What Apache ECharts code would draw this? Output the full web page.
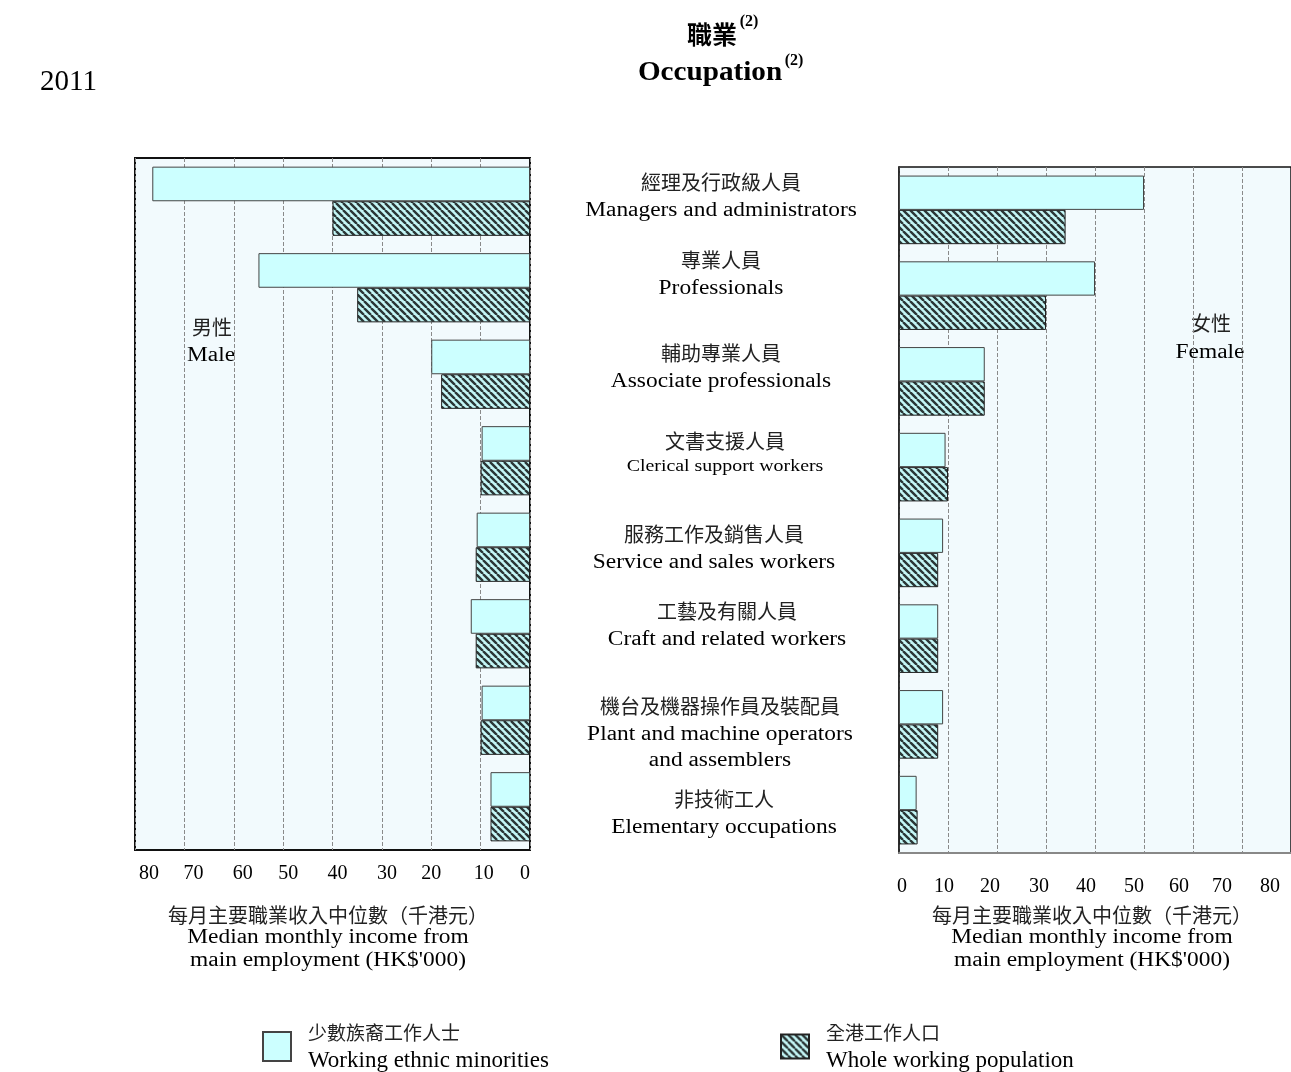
<!DOCTYPE html>
<html>
<head>
<meta charset="utf-8">
<script src="https://cdn.jsdelivr.net/npm/echarts@6/dist/echarts.min.js"></script>
<style>html,body{margin:0;padding:0;background:#fff}#c{width:1291px;height:1072px}</style>
</head>
<body>
<div id="c"></div>
<script>
// ---------------- data ----------------
const categoriesZh = ['經理及行政級人員','專業人員','輔助專業人員','文書支援人員','服務工作及銷售人員','工藝及有關人員','機台及機器操作員及裝配員','非技術工人'];
const categoriesEn = ['Managers and administrators','Professionals','Associate professionals','Clerical support workers','Service and sales workers','Craft and related workers','Plant and machine operators\nand assemblers','Elementary occupations'];
const maleMinority   = [76.5, 55, 20, 9.8, 10.8, 12, 9.8, 8];
const maleWhole      = [40, 35, 18, 10, 11, 11, 10, 8];
const femaleMinority = [50, 40, 17.5, 9.5, 9, 8, 9, 3.6];
const femaleWhole    = [34, 30, 17.5, 10, 8, 8, 8, 3.8];
const seriesNames = ['少數族裔工作人士', '全港工作人口'];
const seriesNamesEn = ['Working ethnic minorities', 'Whole working population'];
const axisMin = 0, axisMax = 80, axisStep = 10;

// ---------------- layout / style ----------------
const EN = "'Liberation Serif','Times New Roman',serif";
const ZH = "'Noto Sans CJK TC','Noto Sans CJK SC',sans-serif";
const labelPos = [
  {x:721, zh:182, en:211},
  {x:721, zh:260, en:289},
  {x:721, zh:353, en:382},
  {x:725, zh:441, en:467, small:true},
  {x:714, zh:534, en:563},
  {x:727, zh:611, en:640},
  {x:720, zh:706, en:748},
  {x:724, zh:799, en:828}
];
const leftOff = {80:14,70:9,60:9,50:5,40:5,30:5,20:0,10:3,0:-5};
const rightOff = {0:3,10:-4,20:-7,30:-7,40:-9,50:-10,60:-14,70:-20,80:-21};

function hatch(){
  const c=document.createElement('canvas'); c.width=c.height=7;
  const g=c.getContext('2d');
  g.fillStyle='#c4f6f6'; g.fillRect(0,0,7,7);
  g.strokeStyle='#2b3636'; g.lineWidth=2.4; g.beginPath();
  for (const o of [-7,0,7]) { g.moveTo(o,0); g.lineTo(o+7,7); }
  g.stroke();
  return c;
}
const hatchColor = {image: hatch(), repeat: 'repeat'};
const cyan = '#CCFFFF';

function richFor(off){
  const r={};
  Object.keys(off).forEach(k=>{
    const o=off[k];
    r['t'+k]={fontFamily:EN,fontSize:20,color:'#000',padding: o>=0?[0,0,0,2*o]:[0,-2*o,0,0]};
  });
  return r;
}

const chart = echarts.init(document.getElementById('c'));

const graphics = [];
function txt(text,x,y,opt){
  opt=opt||{};
  graphics.push({type:'text', x:x, y:y, scaleX: opt.sx||1, silent:true,
    style:{text:text, fill:opt.color||'#000', fontSize:opt.size||20, fontFamily:opt.font||EN,
      fontWeight:opt.weight||'normal', align:opt.align||'center', verticalAlign:'middle', lineHeight:opt.lh||26}});
}
txt('2011', 40, 82, {size:29, align:'left'});
txt('職業', 712, 34, {size:25, weight:'bold', font:ZH});
txt('(2)', 749, 22, {size:16, weight:'bold'});
txt('Occupation', 710, 73, {size:27, weight:'bold', sx:1.08});
txt('(2)', 794, 61, {size:16, weight:'bold'});
categoriesZh.forEach((z,i)=>{
  const p=labelPos[i];
  txt(z, p.x, p.zh, {size:20, font:ZH, color:'#222'});
  txt(categoriesEn[i], p.x, p.en, {size:p.small?17:20, sx:1.17});
});
txt('男性', 212, 327, {size:20, font:ZH, color:'#222'});
txt('Male', 211, 356, {size:20, sx:1.17});
txt('女性', 1211, 323, {size:20, font:ZH, color:'#222'});
txt('Female', 1210, 353, {size:20, sx:1.17});
[328, 1092].forEach(cx=>{
  txt('每月主要職業收入中位數（千港元）', cx, 915, {size:20, font:ZH, color:'#222'});
  txt('Median monthly income from', cx, 938, {size:20, sx:1.17});
  txt("main employment (HK$'000)", cx, 961, {size:20, sx:1.17});
});

function legendFmt(name){
  const i=seriesNames.indexOf(name);
  return '{zh|'+name+'}\n{en|'+seriesNamesEn[i]+'}';
}
const legendRich = {
  zh:{fontFamily:ZH,fontSize:19,color:'#222',lineHeight:28,padding:[0,0,0,12]},
  en:{fontFamily:EN,fontSize:23,color:'#000',lineHeight:28,padding:[0,0,0,12]}
};

const barBase = {type:'bar', barGap:'0%', barCategoryGap:'20%', silent:true};

const option = {
  animation:false,
  backgroundColor:'#fff',
  graphic: graphics,
  legend:[
    {left:262, top:1023, padding:0, icon:'rect', itemWidth:28, itemHeight:29, selectedMode:false, data:[seriesNames[0]],
     formatter:legendFmt, textStyle:{rich:legendRich}},
    {left:780, top:1023, padding:0, icon:'rect', itemWidth:28, itemHeight:24, selectedMode:false, data:[seriesNames[1]],
     formatter:legendFmt, textStyle:{rich:legendRich}}
  ],
  grid:[
    {left:135, top:158, width:395, height:692, show:true, backgroundColor:'#F2FAFD', borderColor:'#111', borderWidth:2, containLabel:false},
    {left:899, top:167, width:397, height:686, show:true, backgroundColor:'#F2FAFD', borderColor:'#111', borderWidth:1.5, containLabel:false}
  ],
  xAxis:[
    {gridIndex:0, type:'value', inverse:true, min:axisMin, max:axisMax, interval:axisStep,
     axisLine:{show:false}, axisTick:{show:false},
     splitLine:{show:true, lineStyle:{type:'dashed', color:'#8a8a8a', width:1}},
     axisLabel:{margin:14, formatter:v=>'{t'+v+'|'+v+'}', rich:richFor(leftOff)}},
    {gridIndex:1, type:'value', min:axisMin, max:axisMax, interval:axisStep,
     axisLine:{show:true, lineStyle:{color:'#888', width:2}}, axisTick:{show:false},
     splitLine:{show:true, lineStyle:{type:'dashed', color:'#8a8a8a', width:1}},
     axisLabel:{margin:24, formatter:v=>'{t'+v+'|'+v+'}', rich:richFor(rightOff)}}
  ],
  yAxis:[
    {gridIndex:0, type:'category', inverse:true, position:'right', data:categoriesEn,
     axisLine:{show:false}, axisTick:{show:false}, axisLabel:{show:false}},
    {gridIndex:1, type:'category', inverse:true, position:'left', data:categoriesEn,
     axisLine:{show:true, lineStyle:{color:'#222', width:1.5}}, axisTick:{show:false}, axisLabel:{show:false}}
  ],
  series:[
    Object.assign({}, barBase, {name:seriesNames[0], xAxisIndex:0, yAxisIndex:0, data:maleMinority,
      itemStyle:{color:cyan, borderColor:'#444', borderWidth:1}}),
    Object.assign({}, barBase, {name:seriesNames[1], xAxisIndex:0, yAxisIndex:0, data:maleWhole,
      itemStyle:{color:hatchColor, borderColor:'#222', borderWidth:1}}),
    Object.assign({}, barBase, {name:seriesNames[0], xAxisIndex:1, yAxisIndex:1, data:femaleMinority,
      itemStyle:{color:cyan, borderColor:'#444', borderWidth:1}}),
    Object.assign({}, barBase, {name:seriesNames[1], xAxisIndex:1, yAxisIndex:1, data:femaleWhole,
      itemStyle:{color:hatchColor, borderColor:'#222', borderWidth:1}})
  ]
};
chart.setOption(option);
</script>
</body>
</html>
